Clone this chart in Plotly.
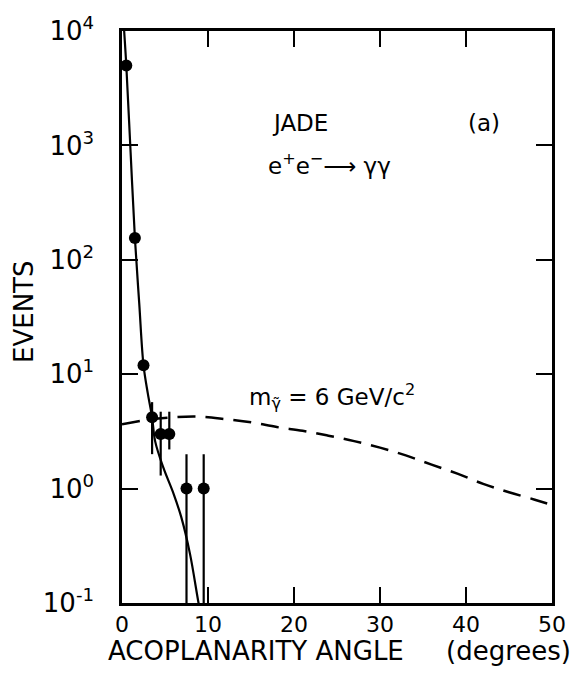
import plotly.graph_objects as go

# ---- data ----
data_x = [0.5, 1.5, 2.5, 3.5, 4.5, 5.5, 7.5, 9.5]
data_y = [5000, 155, 12, 4.2, 3.0, 3.0, 1.0, 1.0]
err_plus = [0, 0, 0, 1.5, 1.7, 1.7, 1.0, 1.0]
err_minus = [0, 0, 0, 2.2, 1.7, 0.8, 0.999, 0.999]

fit_x = [0.25, 0.5, 1.0, 1.5, 2.0, 2.5, 3.0, 3.5, 3.85, 4.8, 6.0, 6.9, 7.9, 8.9, 9.3]
fit_y = [10000, 5000, 870, 155, 42, 12, 6.8, 4.2, 2.6, 1.53, 0.90, 0.56, 0.27, 0.1, 0.07]

sig_x = [0, 3, 6, 9, 12, 15, 18, 21, 24, 27, 30, 33, 36, 39, 42, 45, 48, 50]
sig_y = [3.65, 4.0, 4.2, 4.25, 4.05, 3.8, 3.45, 3.2, 2.9, 2.6, 2.28, 1.95, 1.62,
         1.35, 1.1, 0.93, 0.8, 0.72]

x_ticks = [0, 10, 20, 30, 40, 50]
y_ticks = [0.1, 1, 10, 100, 1000, 10000]
y_ticktext = ["10<sup>-1</sup>", "10<sup>0</sup>", "10<sup>1</sup>",
              "10<sup>2</sup>", "10<sup>3</sup>", "10<sup>4</sup>"]

FONT = "DejaVu Sans"

fig = go.Figure()
fig.add_trace(go.Scatter(x=sig_x, y=sig_y, mode="lines", line_shape="spline",
                         line=dict(color="black", width=2.5, dash="18px,10px"),
                         showlegend=False))
fig.add_trace(go.Scatter(x=fit_x, y=fit_y, mode="lines", line_shape="spline",
                         line=dict(color="black", width=2.2), showlegend=False))
fig.add_trace(go.Scatter(x=data_x, y=data_y, mode="markers",
                         marker=dict(color="black", size=12),
                         error_y=dict(type="data", symmetric=False, array=err_plus,
                                      arrayminus=err_minus, color="black",
                                      thickness=2.2, width=0),
                         showlegend=False))

axis_common = dict(showline=True, linecolor="black", linewidth=2.5, mirror="ticks",
                   ticks="inside", ticklen=16, tickwidth=2, tickcolor="black",
                   showgrid=False, zeroline=False)

fig.update_xaxes(range=[0, 50], tickvals=x_ticks, ticktext=[str(v) for v in x_ticks],
                 tickfont=dict(family=FONT, size=22, color="black"),
                 ticklabelstandoff=0, **axis_common)
fig.update_yaxes(type="log", range=[-1, 4], tickvals=y_ticks, ticktext=y_ticktext,
                 tickfont=dict(family=FONT, size=26, color="black"),
                 ticklabelstandoff=20, **axis_common)

def px2paper(px, py):
    return (px - 122) / 432.0, (603 - py) / 575.0

ann = []
def add_text(text, px, py, size, xanchor="center", angle=0):
    xp, yp = px2paper(px, py)
    ann.append(dict(text=text, x=xp, y=yp, xref="paper", yref="paper",
                    xanchor=xanchor, yanchor="middle", showarrow=False,
                    textangle=angle, font=dict(family=FONT, size=size, color="black")))

add_text("JADE", 301, 120, 23)
add_text("(a)", 486, 120, 23)
add_text("e<sup>+</sup>e<sup>−</sup>⟶ γγ", 330, 162, 23)
add_text("m<sub>γ̃</sub> = 6 GeV/c<sup>2</sup>", 248, 395, 23, xanchor="left")
add_text("ACOPLANARITY ANGLE", 257, 651, 26)
add_text("(degrees)", 510, 651, 26)
add_text("EVENTS", 23, 310, 26, angle=-90)

fig.update_layout(width=578, height=681,
                  margin=dict(l=122, r=24, t=28, b=78),
                  paper_bgcolor="white", plot_bgcolor="white",
                  annotations=ann, showlegend=False)

fig.write_html("out.html")
